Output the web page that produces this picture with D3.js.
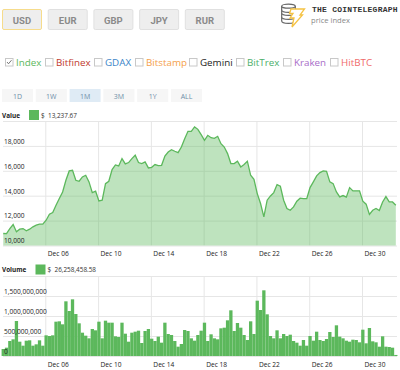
<!DOCTYPE html>
<html>
<head>
<meta charset="utf-8">
<script src="https://cdn.jsdelivr.net/npm/d3@7"></script>
<style>
  html, body { margin: 0; padding: 0; background: #fff; }
  svg { display: block; }
  text { font-family: "Open Sans", sans-serif; }
</style>
</head>
<body>
<script>
// data, one sample every 6 hours
const currencies = ['USD', 'EUR', 'GBP', 'JPY', 'RUR']
const ranges = ['1D', '1W', '1M', '3M', '1Y', 'ALL']
const exchanges = ['Index', 'Bitfinex', 'GDAX', 'Bitstamp', 'Gemini', 'BitTrex', 'Kraken', 'HitBTC']
const valueTicks = [10000, 12000, 14000, 16000, 18000, 20000]
const volumeTicks = [0, 500000000, 1000000000, 1500000000, 2000000000]
const values = [
  10963, 10960, 11360, 11685, 11100, 11310, 11360, 11180, 11310, 11500,
  11630, 11710, 11710, 12030, 12510, 12650, 13240, 13770, 14300, 15240,
  15990, 16040, 15240, 15160, 15510, 15640, 15110, 14250, 14360, 13580,
  13640, 14970, 15160, 16100, 16470, 16390, 16980, 16550, 16660, 16980,
  17250, 16660, 16580, 16710, 16230, 16280, 16500, 16420, 16440, 17190,
  17510, 17700, 17570, 17460, 17910, 18580, 19170, 19170, 19520, 19330,
  18900, 18450, 18850, 18660, 18610, 18770, 18180, 17910, 17380, 16580,
  16580, 16770, 16310, 16500, 16770, 15640, 15320, 14170, 13370, 12300,
  13640, 13980, 14250, 14890, 14760, 13640, 12970, 12830, 13100, 13560,
  13800, 13770, 13770, 14650, 15110, 15590, 15860, 15990, 15960, 15110,
  14970, 14300, 13900, 14010, 13880, 14650, 14390, 14390, 14390, 13560,
  13320, 12490, 12830, 12970, 12810, 13500, 13930, 13500, 13500, 13237.67
]
// in millions
const volumes = [
  175, 208, 375, 417, 875, 358, 258, 383, 392, 258,
  292, 392, 258, 517, 500, 517, 858, 867, 792, 1367,
  1125, 1417, 1050, 817, 583, 508, 442, 675, 642, 858,
  442, 883, 833, 833, 492, 475, 833, 558, 358, 583,
  608, 633, 325, 625, 675, 433, 375, 483, 333, 833,
  550, 525, 375, 233, 300, 650, 625, 442, 383, 525,
  633, 833, 375, 542, 442, 417, 692, 708, 892, 1142,
  625, 825, 708, 525, 400, 867, 550, 1383, 1150, 1642,
  1042, 500, 442, 642, 442, 550, 500, 533, 375, 333,
  258, 400, 258, 500, 383, 608, 400, 375, 425, 600,
  475, 767, 483, 442, 383, 358, 408, 400, 342, 658,
  317, 700, 367, 342, 233, 492, 233, 225, 208, 26.26
]

const exchangeColors = ['#5cb85c', '#c0392b', '#3a85c8', '#f5a04a', '#222222', '#4caf6a', '#a86cc8', '#f06a6a']
const green = '#5cb85c'
const gridColor = '#e6e6e6'

const width = 400
const height = 370
const start = new Date(2017, 11, 2, 19, 30)
const times = values.map(function(d, i) { return d3.timeHour.offset(start, i * 6) })

const svg = d3.select('body').append('svg')
  .attr('width', width)
  .attr('height', height)
  .attr('viewBox', `0 0 ${width} ${height}`)

// currency buttons
const btn = svg.selectAll('.btn').data(currencies).enter().append('g')
  .attr('class', 'btn')
  .attr('transform', function(d, i) { return 'translate(' + (2.5 + i * 45.7) + ',9.5)' })
btn.append('rect')
  .attr('width', 39).attr('height', 20).attr('rx', 1.5)
  .attr('fill', '#eeeeee')
  .attr('stroke', function(d, i) { return i === 0 ? '#f6dc8c' : '#e0e0e0' })
btn.append('text')
  .attr('x', 19.5).attr('y', 14)
  .attr('text-anchor', 'middle')
  .attr('fill', '#8a8a8a')
  .style('font-family', 'Roboto, sans-serif')
  .style('font-weight', 700)
  .style('font-size', '9.5px')
  .text(function(d) { return d })

// logo
const logo = svg.append('g').attr('transform', 'translate(281,4)')
;[13, 9, 5, 2].forEach(function(dy) {
  logo.append('path')
    .attr('d', `M0.7,${dy} v4 a6.8,2.4 0 0 0 13.6,0 v-4`)
    .attr('fill', '#fff').attr('stroke', '#666').attr('stroke-width', 1.2)
})
logo.append('ellipse')
  .attr('cx', 7.5).attr('cy', 2.2).attr('rx', 6.8).attr('ry', 2)
  .attr('fill', '#fff').attr('stroke', '#666').attr('stroke-width', 1.2)
logo.append('path')
  .attr('d', 'M10,5 H23.5 L19,11 H21.5 L11,23 L13,14 H9 L12,9.5 H8.5 Z')
  .attr('fill', '#fff').attr('stroke', '#f5c242').attr('stroke-width', 1.3)
svg.append('text')
  .attr('x', 312).attr('y', 11.5)
  .attr('fill', '#333')
  .style('font-family', '"Liberation Mono", monospace')
  .style('font-weight', 700)
  .style('font-size', '8px')
  .style('letter-spacing', '0.25px')
  .text('THE COINTELEGRAPH')
svg.append('text')
  .attr('x', 311).attr('y', 23)
  .attr('fill', '#888')
  .style('font-size', '7.6px')
  .text('price index')

// exchange checkboxes
const legendX = [5, 45, 94, 135, 189, 236, 283, 330]
const item = svg.selectAll('.item').data(exchanges).enter().append('g')
  .attr('class', 'item')
  .attr('transform', function(d, i) { return 'translate(' + legendX[i] + ',58)' })
item.append('rect')
  .attr('x', 0.5).attr('y', 0.5).attr('width', 7.5).attr('height', 7.5)
  .attr('fill', '#fff').attr('stroke', '#c8c8c8')
item.append('text')
  .attr('x', 11).attr('y', 8.3)
  .attr('fill', function(d, i) { return exchangeColors[i] })
  .style('font-size', '9.8px')
  .text(function(d) { return d })
svg.append('path')
  .attr('d', 'M7,62 l1.5,1.8 l3,-3.6')
  .attr('fill', 'none').attr('stroke', '#666').attr('stroke-width', 0.9)

// range buttons
const rangeBtn = svg.selectAll('.range').data(ranges).enter().append('g')
  .attr('class', 'range')
  .attr('transform', function(d, i) { return 'translate(' + (2 + i * 33.8) + ',89)' })
rangeBtn.append('rect')
  .attr('width', 31).attr('height', 13)
  .attr('fill', function(d) { return d === '1M' ? '#dfebf5' : '#f6f6f6' })
rangeBtn.append('text')
  .attr('x', 15.5).attr('y', 9.5)
  .attr('text-anchor', 'middle')
  .attr('fill', '#6f8fa8')
  .style('font-size', '7px')
  .text(function(d) { return d })

// scales
const x = d3.scaleTime()
  .domain([new Date(2017, 11, 6), new Date(2017, 11, 30)])
  .range([45.3, 362])
const yValue = d3.scaleLinear().domain([10000, 20000]).range([245.5, 121])
const yVolume = d3.scaleLinear().domain([0, 2000000000]).range([356, 276])
const dayTicks = d3.timeDay.range(new Date(2017, 11, 6), new Date(2017, 11, 31), 4)
const plotLeft = 3
const plotRight = 397
const labelSize = '6.6px'

function drawGrid(g, y, ticks, top, bottom, xLabelY) {
  const yGrid = g.append('g')
    .attr('transform', 'translate(' + plotLeft + ',0)')
    .call(d3.axisRight(y).tickValues(ticks).tickSize(plotRight - plotLeft).tickFormat(''))
  yGrid.select('.domain').remove()
  yGrid.selectAll('line').attr('stroke', gridColor)

  const xAxis = g.append('g')
    .attr('transform', 'translate(0,' + bottom + ')')
    .call(d3.axisBottom(x).tickValues(dayTicks).tickSize(top - bottom).tickFormat(d3.timeFormat('%b %d')))
  xAxis.select('.domain').remove()
  xAxis.selectAll('line').attr('stroke', gridColor)
  xAxis.selectAll('text')
    .attr('x', 2).attr('y', xLabelY - bottom).attr('dy', 0).attr('text-anchor', 'start')
    .attr('fill', '#222').style('font-size', labelSize)
}

// y labels go on after the marks, they sit over the area and the bars
function drawYLabels(g, y, ticks) {
  const labels = g.append('g')
    .attr('transform', 'translate(' + plotLeft + ',0)')
    .call(d3.axisRight(y).tickValues(ticks.slice(0, -1)).tickSize(0).tickPadding(1).tickFormat(d3.format(',')))
  labels.select('.domain').remove()
  labels.selectAll('text')
    .attr('dy', '-0.4em')
    .attr('fill', '#222').style('font-size', labelSize)
}

function drawHeader(y, label, swatchX, amount) {
  svg.append('text').attr('x', 2).attr('y', y + 2.5)
    .attr('fill', '#222').style('font-size', '6.4px').style('font-weight', 700).text(label)
  svg.append('rect').attr('x', swatchX).attr('y', y - 5).attr('width', 10).attr('height', 10).attr('fill', green)
  svg.append('text').attr('x', swatchX + 12).attr('y', y + 2.5)
    .attr('fill', '#333').style('font-size', '6.4px').text('$')
  svg.append('text').attr('x', swatchX + 19).attr('y', y + 2.5)
    .attr('fill', '#333').style('font-size', '6.4px').text(amount)
}

// value chart
drawHeader(115, 'Value', 29, '13,237.67')
const valueG = svg.append('g')
drawGrid(valueG, yValue, valueTicks, 121, 245.5, 255.5)

const area = d3.area()
  .x(function(d, i) { return x(times[i]) })
  .y0(yValue(10000))
  .y1(function(d) { return yValue(d) })
const line = d3.line()
  .x(function(d, i) { return x(times[i]) })
  .y(function(d) { return yValue(d) })

valueG.append('path').datum(values).attr('d', area).attr('fill', green).attr('fill-opacity', 0.4)
valueG.append('path').datum(values).attr('d', line)
  .attr('fill', 'none').attr('stroke', green).attr('stroke-width', 1.3)
drawYLabels(valueG, yValue, valueTicks)

// volume chart
drawHeader(269.5, 'Volume', 35.5, '26,258,458.58')
const volumeG = svg.append('g')
drawGrid(volumeG, yVolume, volumeTicks, 276, 356, 366.5)

const barW = x(times[1]) - x(times[0])
volumeG.selectAll('.bar').data(volumes).enter().append('rect')
  .attr('class', 'bar')
  .attr('x', function(d, i) { return x(times[i]) - barW / 2 })
  .attr('y', function(d) { return yVolume(d * 1e6) })
  .attr('width', barW)
  .attr('height', function(d) { return yVolume(0) - yVolume(d * 1e6) })
  .attr('fill', green)
drawYLabels(volumeG, yVolume, volumeTicks)
</script>
</body>
</html>
